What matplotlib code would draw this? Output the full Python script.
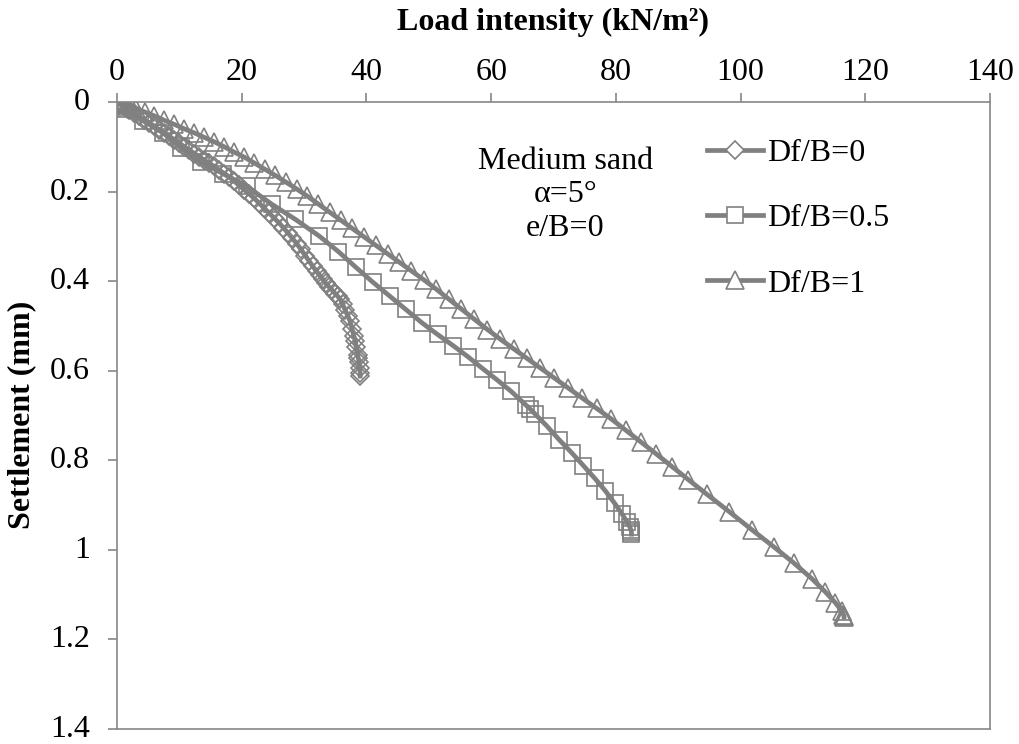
import numpy as np
import matplotlib
matplotlib.use("Agg")
import matplotlib.pyplot as plt
import matplotlib.transforms as mtransforms
from matplotlib.lines import Line2D

# load intensity (kN/m2) and settlement (mm)
load_df0 = [0, 0.6, 1.3, 2.0, 2.8, 3.6, 4.4, 5.2, 6.0, 6.8, 7.6, 8.4, 9.2, 10.0,
            10.8, 11.6, 12.4, 13.2, 14.0, 14.8, 15.6, 16.4, 17.2, 18.0, 18.8,
            19.6, 20.4, 21.2, 22.0, 22.8, 23.6, 24.4, 25.2, 26.0, 26.7, 27.4,
            28.1, 28.8, 29.5, 30.2, 30.8, 31.4, 32.0, 32.5, 33.0, 33.5, 34.0,
            34.5, 35.0, 35.4, 35.8, 36.2, 36.6, 37.0, 37.4, 37.7, 38.0, 38.2,
            38.4, 38.6, 38.7, 38.8, 38.9, 39.0, 39.0]
settle_df0 = [0, 0.005, 0.012, 0.018, 0.025, 0.032, 0.040, 0.047, 0.054, 0.062,
              0.069, 0.077, 0.084, 0.092, 0.100, 0.107, 0.115, 0.122, 0.130,
              0.137, 0.144, 0.152, 0.160, 0.167, 0.177, 0.186, 0.196, 0.205,
              0.215, 0.226, 0.237, 0.248, 0.259, 0.270, 0.281, 0.292, 0.304,
              0.316, 0.329, 0.343, 0.355, 0.367, 0.378, 0.387, 0.396, 0.405,
              0.413, 0.420, 0.428, 0.434, 0.440, 0.452, 0.465, 0.477, 0.490,
              0.507, 0.523, 0.534, 0.548, 0.564, 0.572, 0.580, 0.595, 0.605,
              0.612]

load_df05 = [0, 0.5, 1.5, 4.2, 7.4, 10.2, 13.4, 17.0, 20.8, 24.8, 28.6, 32.4,
             35.5, 38.3, 41.0, 43.7, 46.3, 48.9, 51.4, 53.9, 56.3, 58.7, 61.0,
             63.2, 65.6, 66.3, 67.0, 68.9, 70.9, 72.9, 74.8, 76.6, 78.3, 79.8,
             81.0, 81.8, 82.2, 82.4, 82.5, 82.5]
settle_df05 = [0, 0.005, 0.015, 0.042, 0.069, 0.102, 0.133, 0.160, 0.188,
               0.228, 0.262, 0.299, 0.334, 0.369, 0.402, 0.433, 0.463, 0.493,
               0.519, 0.544, 0.569, 0.596, 0.621, 0.646, 0.677, 0.686, 0.696,
               0.723, 0.754, 0.783, 0.812, 0.840, 0.868, 0.896, 0.920, 0.938,
               0.948, 0.955, 0.960, 0.965]

load_df1 = [0, 0.8, 1.8, 3.0, 4.5, 6.0, 7.6, 9.2, 10.8, 12.4, 14.0, 15.6, 17.2,
            18.8, 20.4, 22.0, 23.7, 25.4, 27.1, 28.8, 30.5, 32.3, 34.1, 35.9,
            37.7, 39.6, 41.5, 43.4, 45.3, 47.2, 49.2, 51.2, 53.2, 55.2, 57.3,
            59.4, 61.5, 63.6, 65.7, 67.9, 70.1, 72.3, 74.6, 76.9, 79.2, 81.6,
            84.0, 86.4, 89.0, 91.6, 94.6, 98.2, 101.8, 105.3, 108.6, 111.4,
            113.6, 115.2, 116.2, 116.5, 116.6, 116.6]
settle_df1 = [0, 0.004, 0.009, 0.015, 0.0225, 0.031, 0.041, 0.050, 0.060,
              0.069, 0.079, 0.089, 0.100, 0.112, 0.123, 0.136, 0.150, 0.164,
              0.179, 0.194, 0.210, 0.228, 0.246, 0.264, 0.282, 0.301, 0.320,
              0.339, 0.358, 0.377, 0.397, 0.418, 0.440, 0.462, 0.485, 0.508,
              0.530, 0.551, 0.572, 0.594, 0.616, 0.638, 0.661, 0.684, 0.707,
              0.733, 0.759, 0.785, 0.814, 0.843, 0.876, 0.915, 0.955, 0.993,
              1.030, 1.064, 1.094, 1.118, 1.136, 1.145, 1.148, 1.150]

labels = ['Df/B=0', 'Df/B=0.5', 'Df/B=1']
x_ticks = [0, 20, 40, 60, 80, 100, 120, 140]
y_ticks = [0, 0.2, 0.4, 0.6, 0.8, 1, 1.2, 1.4]
y_tick_labels = ['0', '0.2', '0.4', '0.6', '0.8', '1', '1.2', '1.4']

plt.rcParams['font.family'] = ['Liberation Serif', 'DejaVu Serif']
plt.rcParams['font.size'] = 23

GREY = '#808080'
SPINE = '#868686'

fig = plt.figure(figsize=(10.19, 7.44), dpi=100)
ax = fig.add_axes([117 / 1019, 1 - 729 / 744, 873 / 1019, 627 / 744])

series = [
  (load_df0, settle_df0, 'D', 9.2),
  (load_df05, settle_df05, 's', 12.0),
  (load_df1, settle_df1, '^', 13.0),
]
handles = []
for (xs, ys, mk, ms), lab in zip(series, labels):
  ax.plot(xs, ys, color=GREY, lw=3.4, marker=mk, ms=ms, mfc='none',
          mec=GREY, mew=1.2, solid_joinstyle='round')
  handles.append(Line2D([], [], color=GREY, lw=3.4, marker=mk, ms=ms,
                        mfc='white', mec=GREY, mew=1.2))

ax.set_xlim(0, 140)
ax.set_ylim(1.4, 0)
ax.set_xticks(x_ticks)
ax.set_yticks(y_ticks)
ax.set_yticklabels(y_tick_labels)
ax.xaxis.tick_top()

for s in ax.spines.values():
  s.set_color(SPINE)
  s.set_linewidth(1.2)
ax.tick_params(axis='both', direction='out', length=6.5, width=1.2,
               color=SPINE, labelsize=23)
ax.tick_params(axis='x', pad=4)
ax.tick_params(axis='y', pad=13)

# nudge y tick labels up a little so the last one stays inside the figure
shift = mtransforms.ScaledTranslation(0, 3 / 100, fig.dpi_scale_trans)
for lbl in ax.get_yticklabels():
  lbl.set_transform(lbl.get_transform() + shift)

fig.text(553 / 1019, 1 - 22 / 744, 'Load intensity (kN/m²)', ha='center',
         va='center', fontweight='bold', fontsize=23)
fig.text(22 / 1019, 1 - 415 / 744, 'Settlement (mm)', ha='center',
         va='center', rotation=90, fontweight='bold', fontsize=23)

ax.text(71.9, 0.207, 'Medium sand\nα=5°\ne/B=0', ha='center', va='center',
        fontsize=23, linespacing=1.2)

ax.legend(handles, labels, loc='upper left', bbox_to_anchor=(0.676, 0.941),
          frameon=False, borderpad=0, borderaxespad=0, handlelength=1.75,
          handletextpad=0.12, labelspacing=1.12, fontsize=23)

fig.savefig('out.png', dpi=100)
